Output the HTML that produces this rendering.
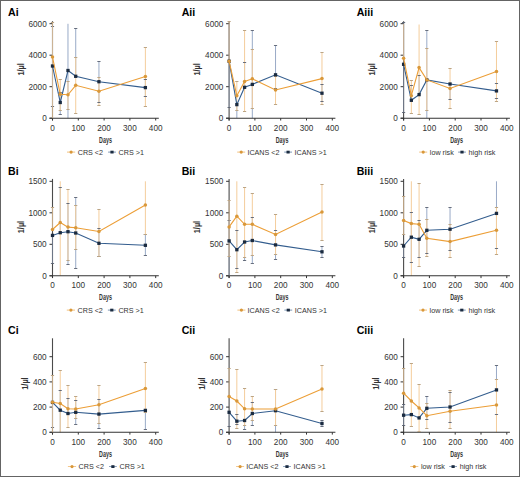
<!DOCTYPE html><html><head><meta charset="utf-8"><style>html,body{margin:0;padding:0;background:#fff;}svg{display:block;}text{font-family:"Liberation Sans",sans-serif;}</style></head><body>
<svg width="520" height="477" viewBox="0 0 520 477">
<rect x="0" y="0" width="520" height="477" fill="#fff"/>
<g><text x="8.1" y="15.7" font-size="10.6" font-weight="bold" fill="#000">Ai</text><line x1="60.24" y1="102.50" x2="60.24" y2="92.30" stroke="#8FA2C2" stroke-width="1.0" opacity="0.9"/><line x1="60.24" y1="102.50" x2="60.24" y2="114.40" stroke="#8FA2C2" stroke-width="1.0" opacity="0.9"/><line x1="67.98" y1="70.50" x2="67.98" y2="23.80" stroke="#8FA2C2" stroke-width="1.0" opacity="0.9"/><line x1="67.98" y1="70.50" x2="67.98" y2="118.20" stroke="#8FA2C2" stroke-width="1.0" opacity="0.9"/><line x1="75.72" y1="76.30" x2="75.72" y2="28.30" stroke="#8FA2C2" stroke-width="1.0" opacity="0.9"/><line x1="98.94" y1="81.70" x2="98.94" y2="61.30" stroke="#8FA2C2" stroke-width="1.0" opacity="0.9"/><line x1="98.94" y1="81.70" x2="98.94" y2="102.70" stroke="#8FA2C2" stroke-width="1.0" opacity="0.9"/><line x1="145.38" y1="87.60" x2="145.38" y2="79.10" stroke="#8FA2C2" stroke-width="1.0" opacity="0.9"/><line x1="145.38" y1="87.60" x2="145.38" y2="96.20" stroke="#8FA2C2" stroke-width="1.0" opacity="0.9"/><line x1="60.24" y1="94.30" x2="60.24" y2="79.30" stroke="#F4CD9C" stroke-width="1.0" opacity="1.0"/><line x1="60.24" y1="94.30" x2="60.24" y2="111.00" stroke="#F4CD9C" stroke-width="1.0" opacity="1.0"/><line x1="67.98" y1="94.80" x2="67.98" y2="81.60" stroke="#F4CD9C" stroke-width="1.0" opacity="1.0"/><line x1="67.98" y1="94.80" x2="67.98" y2="109.30" stroke="#F4CD9C" stroke-width="1.0" opacity="1.0"/><line x1="75.72" y1="85.30" x2="75.72" y2="57.80" stroke="#F4CD9C" stroke-width="1.0" opacity="1.0"/><line x1="75.72" y1="85.30" x2="75.72" y2="113.30" stroke="#F4CD9C" stroke-width="1.0" opacity="1.0"/><line x1="98.94" y1="91.20" x2="98.94" y2="77.80" stroke="#F4CD9C" stroke-width="1.0" opacity="1.0"/><line x1="98.94" y1="91.20" x2="98.94" y2="105.40" stroke="#F4CD9C" stroke-width="1.0" opacity="1.0"/><line x1="145.38" y1="76.50" x2="145.38" y2="47.10" stroke="#F4CD9C" stroke-width="1.0" opacity="1.0"/><line x1="145.38" y1="76.50" x2="145.38" y2="106.50" stroke="#F4CD9C" stroke-width="1.0" opacity="1.0"/><line x1="52.50" y1="21.20" x2="52.50" y2="120.40" stroke="#333333" stroke-width="1.1" opacity="0.88"/><line x1="49.50" y1="118.20" x2="158.80" y2="118.20" stroke="#333333" stroke-width="1.1"/><line x1="49.50" y1="118.20" x2="52.50" y2="118.20" stroke="#333333" stroke-width="1"/><text x="46.70" y="121.20" font-size="8.2" text-anchor="end" fill="#333333">0</text><line x1="49.50" y1="86.70" x2="52.50" y2="86.70" stroke="#333333" stroke-width="1"/><text x="46.70" y="89.70" font-size="8.2" text-anchor="end" fill="#333333">2000</text><line x1="49.50" y1="55.20" x2="52.50" y2="55.20" stroke="#333333" stroke-width="1"/><text x="46.70" y="58.20" font-size="8.2" text-anchor="end" fill="#333333">4000</text><line x1="49.50" y1="23.70" x2="52.50" y2="23.70" stroke="#333333" stroke-width="1"/><text x="46.70" y="26.70" font-size="8.2" text-anchor="end" fill="#333333">6000</text><line x1="52.50" y1="118.20" x2="52.50" y2="120.50" stroke="#333333" stroke-width="1"/><text x="52.50" y="130.50" font-size="8.2" text-anchor="middle" fill="#333333">0</text><line x1="78.30" y1="118.20" x2="78.30" y2="120.50" stroke="#333333" stroke-width="1"/><text x="78.30" y="130.50" font-size="8.2" text-anchor="middle" fill="#333333">100</text><line x1="104.10" y1="118.20" x2="104.10" y2="120.50" stroke="#333333" stroke-width="1"/><text x="104.10" y="130.50" font-size="8.2" text-anchor="middle" fill="#333333">200</text><line x1="129.90" y1="118.20" x2="129.90" y2="120.50" stroke="#333333" stroke-width="1"/><text x="129.90" y="130.50" font-size="8.2" text-anchor="middle" fill="#333333">300</text><line x1="155.70" y1="118.20" x2="155.70" y2="120.50" stroke="#333333" stroke-width="1"/><text x="155.70" y="130.50" font-size="8.2" text-anchor="middle" fill="#333333">400</text><line x1="52.50" y1="66.00" x2="52.50" y2="26.20" stroke="#8FA2C2" stroke-width="1.0" opacity="0.5"/><line x1="50.90" y1="26.50" x2="54.10" y2="26.50" stroke="#5A6272" stroke-width="1" opacity="0.9"/><line x1="52.50" y1="66.00" x2="52.50" y2="106.50" stroke="#8FA2C2" stroke-width="1.0" opacity="0.5"/><line x1="50.90" y1="106.50" x2="54.10" y2="106.50" stroke="#5A6272" stroke-width="1" opacity="0.9"/><line x1="58.64" y1="92.50" x2="61.84" y2="92.50" stroke="#5A6272" stroke-width="1" opacity="0.9"/><line x1="58.64" y1="114.50" x2="61.84" y2="114.50" stroke="#5A6272" stroke-width="1" opacity="0.9"/><line x1="74.12" y1="28.50" x2="77.32" y2="28.50" stroke="#5A6272" stroke-width="1" opacity="0.9"/><line x1="97.34" y1="61.50" x2="100.54" y2="61.50" stroke="#5A6272" stroke-width="1" opacity="0.9"/><line x1="97.34" y1="102.50" x2="100.54" y2="102.50" stroke="#5A6272" stroke-width="1" opacity="0.9"/><line x1="143.78" y1="79.50" x2="146.98" y2="79.50" stroke="#5A6272" stroke-width="1" opacity="0.9"/><line x1="143.78" y1="96.50" x2="146.98" y2="96.50" stroke="#5A6272" stroke-width="1" opacity="0.9"/><line x1="52.50" y1="57.00" x2="52.50" y2="22.70" stroke="#F4CD9C" stroke-width="1.0" opacity="0.7"/><line x1="50.90" y1="22.50" x2="54.10" y2="22.50" stroke="#BCA585" stroke-width="1" opacity="1.0"/><line x1="52.50" y1="57.00" x2="52.50" y2="118.20" stroke="#F4CD9C" stroke-width="1.0" opacity="0.7"/><line x1="58.64" y1="79.50" x2="61.84" y2="79.50" stroke="#BCA585" stroke-width="1" opacity="1.0"/><line x1="58.64" y1="110.50" x2="61.84" y2="110.50" stroke="#BCA585" stroke-width="1" opacity="1.0"/><line x1="66.38" y1="81.50" x2="69.58" y2="81.50" stroke="#BCA585" stroke-width="1" opacity="1.0"/><line x1="66.38" y1="109.50" x2="69.58" y2="109.50" stroke="#BCA585" stroke-width="1" opacity="1.0"/><line x1="74.12" y1="57.50" x2="77.32" y2="57.50" stroke="#BCA585" stroke-width="1" opacity="1.0"/><line x1="74.12" y1="113.50" x2="77.32" y2="113.50" stroke="#BCA585" stroke-width="1" opacity="1.0"/><line x1="97.34" y1="77.50" x2="100.54" y2="77.50" stroke="#BCA585" stroke-width="1" opacity="1.0"/><line x1="97.34" y1="105.50" x2="100.54" y2="105.50" stroke="#BCA585" stroke-width="1" opacity="1.0"/><line x1="143.78" y1="47.50" x2="146.98" y2="47.50" stroke="#BCA585" stroke-width="1" opacity="1.0"/><line x1="143.78" y1="106.50" x2="146.98" y2="106.50" stroke="#BCA585" stroke-width="1" opacity="1.0"/><polyline points="52.50,66.00 60.24,102.50 67.98,70.50 75.72,76.30 98.94,81.70 145.38,87.60" fill="none" stroke="#335D8E" stroke-width="1.1"/><rect x="50.85" y="64.35" width="3.3" height="3.3" fill="#1B2B40"/><rect x="58.59" y="100.85" width="3.3" height="3.3" fill="#1B2B40"/><rect x="66.33" y="68.85" width="3.3" height="3.3" fill="#1B2B40"/><rect x="74.07" y="74.65" width="3.3" height="3.3" fill="#1B2B40"/><rect x="97.29" y="80.05" width="3.3" height="3.3" fill="#1B2B40"/><rect x="143.73" y="85.95" width="3.3" height="3.3" fill="#1B2B40"/><polyline points="52.50,57.00 60.24,94.30 67.98,94.80 75.72,85.30 98.94,91.20 145.38,76.50" fill="none" stroke="#EC9E36" stroke-width="1.1"/><circle cx="52.50" cy="57.00" r="1.75" fill="#D9983A"/><circle cx="60.24" cy="94.30" r="1.75" fill="#D9983A"/><circle cx="67.98" cy="94.80" r="1.75" fill="#D9983A"/><circle cx="75.72" cy="85.30" r="1.75" fill="#D9983A"/><circle cx="98.94" cy="91.20" r="1.75" fill="#D9983A"/><circle cx="145.38" cy="76.50" r="1.75" fill="#D9983A"/><text x="99.10" y="142.70" font-size="8.3" font-weight="bold" fill="#333333" textLength="12.8" lengthAdjust="spacingAndGlyphs">Days</text><text transform="translate(23.80,69.45) rotate(-90)" x="0" y="0" font-size="8.3" font-weight="bold" fill="#333333" text-anchor="middle" textLength="12.3" lengthAdjust="spacingAndGlyphs">1/µl</text><line x1="67.00" y1="152.10" x2="75.20" y2="152.10" stroke="#EC9E36" stroke-width="0.8" opacity="0.8"/><circle cx="71.10" cy="152.10" r="1.6" fill="#D9983A"/><text x="77.70" y="154.50" font-size="7.2" fill="#333333">CRS <2</text><line x1="108.10" y1="152.10" x2="115.90" y2="152.10" stroke="#335D8E" stroke-width="0.8" opacity="0.8"/><rect x="110.40" y="150.70" width="3.2" height="2.8" fill="#1B2B40"/><text x="118.60" y="154.50" font-size="7.2" fill="#333333">CRS >1</text></g>
<g><text x="181.7" y="15.7" font-size="10.6" font-weight="bold" fill="#000">Aii</text><line x1="236.84" y1="104.60" x2="236.84" y2="118.20" stroke="#8FA2C2" stroke-width="1.0" opacity="0.9"/><line x1="244.58" y1="87.30" x2="244.58" y2="62.70" stroke="#8FA2C2" stroke-width="1.0" opacity="0.9"/><line x1="252.32" y1="84.40" x2="252.32" y2="30.50" stroke="#8FA2C2" stroke-width="1.0" opacity="0.9"/><line x1="252.32" y1="84.40" x2="252.32" y2="118.20" stroke="#8FA2C2" stroke-width="1.0" opacity="0.9"/><line x1="275.54" y1="74.80" x2="275.54" y2="45.40" stroke="#8FA2C2" stroke-width="1.0" opacity="0.9"/><line x1="275.54" y1="74.80" x2="275.54" y2="88.00" stroke="#8FA2C2" stroke-width="1.0" opacity="0.9"/><line x1="321.98" y1="93.20" x2="321.98" y2="84.50" stroke="#8FA2C2" stroke-width="1.0" opacity="0.9"/><line x1="321.98" y1="93.20" x2="321.98" y2="101.80" stroke="#8FA2C2" stroke-width="1.0" opacity="0.9"/><line x1="236.84" y1="95.70" x2="236.84" y2="81.60" stroke="#F4CD9C" stroke-width="1.0" opacity="1.0"/><line x1="236.84" y1="95.70" x2="236.84" y2="111.00" stroke="#F4CD9C" stroke-width="1.0" opacity="1.0"/><line x1="244.58" y1="81.40" x2="244.58" y2="30.50" stroke="#F4CD9C" stroke-width="1.0" opacity="1.0"/><line x1="244.58" y1="81.40" x2="244.58" y2="111.30" stroke="#F4CD9C" stroke-width="1.0" opacity="1.0"/><line x1="252.32" y1="78.80" x2="252.32" y2="49.10" stroke="#F4CD9C" stroke-width="1.0" opacity="1.0"/><line x1="252.32" y1="78.80" x2="252.32" y2="108.80" stroke="#F4CD9C" stroke-width="1.0" opacity="1.0"/><line x1="275.54" y1="90.00" x2="275.54" y2="76.00" stroke="#F4CD9C" stroke-width="1.0" opacity="1.0"/><line x1="275.54" y1="90.00" x2="275.54" y2="104.10" stroke="#F4CD9C" stroke-width="1.0" opacity="1.0"/><line x1="321.98" y1="78.60" x2="321.98" y2="52.10" stroke="#F4CD9C" stroke-width="1.0" opacity="1.0"/><line x1="321.98" y1="78.60" x2="321.98" y2="104.60" stroke="#F4CD9C" stroke-width="1.0" opacity="1.0"/><line x1="229.10" y1="21.20" x2="229.10" y2="120.40" stroke="#333333" stroke-width="1.1" opacity="0.88"/><line x1="226.10" y1="118.20" x2="335.40" y2="118.20" stroke="#333333" stroke-width="1.1"/><line x1="226.10" y1="118.20" x2="229.10" y2="118.20" stroke="#333333" stroke-width="1"/><text x="223.30" y="121.20" font-size="8.2" text-anchor="end" fill="#333333">0</text><line x1="226.10" y1="86.70" x2="229.10" y2="86.70" stroke="#333333" stroke-width="1"/><text x="223.30" y="89.70" font-size="8.2" text-anchor="end" fill="#333333">2000</text><line x1="226.10" y1="55.20" x2="229.10" y2="55.20" stroke="#333333" stroke-width="1"/><text x="223.30" y="58.20" font-size="8.2" text-anchor="end" fill="#333333">4000</text><line x1="226.10" y1="23.70" x2="229.10" y2="23.70" stroke="#333333" stroke-width="1"/><text x="223.30" y="26.70" font-size="8.2" text-anchor="end" fill="#333333">6000</text><line x1="229.10" y1="118.20" x2="229.10" y2="120.50" stroke="#333333" stroke-width="1"/><text x="229.10" y="130.50" font-size="8.2" text-anchor="middle" fill="#333333">0</text><line x1="254.90" y1="118.20" x2="254.90" y2="120.50" stroke="#333333" stroke-width="1"/><text x="254.90" y="130.50" font-size="8.2" text-anchor="middle" fill="#333333">100</text><line x1="280.70" y1="118.20" x2="280.70" y2="120.50" stroke="#333333" stroke-width="1"/><text x="280.70" y="130.50" font-size="8.2" text-anchor="middle" fill="#333333">200</text><line x1="306.50" y1="118.20" x2="306.50" y2="120.50" stroke="#333333" stroke-width="1"/><text x="306.50" y="130.50" font-size="8.2" text-anchor="middle" fill="#333333">300</text><line x1="332.30" y1="118.20" x2="332.30" y2="120.50" stroke="#333333" stroke-width="1"/><text x="332.30" y="130.50" font-size="8.2" text-anchor="middle" fill="#333333">400</text><line x1="229.10" y1="61.20" x2="229.10" y2="24.00" stroke="#8FA2C2" stroke-width="1.0" opacity="0.5"/><line x1="229.10" y1="61.20" x2="229.10" y2="107.10" stroke="#8FA2C2" stroke-width="1.0" opacity="0.5"/><line x1="227.50" y1="107.50" x2="230.70" y2="107.50" stroke="#5A6272" stroke-width="1" opacity="0.9"/><line x1="242.98" y1="62.50" x2="246.18" y2="62.50" stroke="#5A6272" stroke-width="1" opacity="0.9"/><line x1="250.72" y1="30.50" x2="253.92" y2="30.50" stroke="#5A6272" stroke-width="1" opacity="0.9"/><line x1="273.94" y1="45.50" x2="277.14" y2="45.50" stroke="#5A6272" stroke-width="1" opacity="0.9"/><line x1="273.94" y1="88.50" x2="277.14" y2="88.50" stroke="#5A6272" stroke-width="1" opacity="0.9"/><line x1="320.38" y1="84.50" x2="323.58" y2="84.50" stroke="#5A6272" stroke-width="1" opacity="0.9"/><line x1="320.38" y1="101.50" x2="323.58" y2="101.50" stroke="#5A6272" stroke-width="1" opacity="0.9"/><line x1="229.10" y1="61.20" x2="229.10" y2="21.80" stroke="#F4CD9C" stroke-width="1.0" opacity="0.7"/><line x1="227.50" y1="21.50" x2="230.70" y2="21.50" stroke="#BCA585" stroke-width="1" opacity="1.0"/><line x1="235.24" y1="81.50" x2="238.44" y2="81.50" stroke="#BCA585" stroke-width="1" opacity="1.0"/><line x1="235.24" y1="110.50" x2="238.44" y2="110.50" stroke="#BCA585" stroke-width="1" opacity="1.0"/><line x1="242.98" y1="30.50" x2="246.18" y2="30.50" stroke="#BCA585" stroke-width="1" opacity="1.0"/><line x1="242.98" y1="111.50" x2="246.18" y2="111.50" stroke="#BCA585" stroke-width="1" opacity="1.0"/><line x1="250.72" y1="49.50" x2="253.92" y2="49.50" stroke="#BCA585" stroke-width="1" opacity="1.0"/><line x1="250.72" y1="108.50" x2="253.92" y2="108.50" stroke="#BCA585" stroke-width="1" opacity="1.0"/><line x1="273.94" y1="76.50" x2="277.14" y2="76.50" stroke="#BCA585" stroke-width="1" opacity="1.0"/><line x1="273.94" y1="104.50" x2="277.14" y2="104.50" stroke="#BCA585" stroke-width="1" opacity="1.0"/><line x1="320.38" y1="52.50" x2="323.58" y2="52.50" stroke="#BCA585" stroke-width="1" opacity="1.0"/><line x1="320.38" y1="104.50" x2="323.58" y2="104.50" stroke="#BCA585" stroke-width="1" opacity="1.0"/><polyline points="229.10,61.20 236.84,104.60 244.58,87.30 252.32,84.40 275.54,74.80 321.98,93.20" fill="none" stroke="#335D8E" stroke-width="1.1"/><rect x="227.45" y="59.55" width="3.3" height="3.3" fill="#1B2B40"/><rect x="235.19" y="102.95" width="3.3" height="3.3" fill="#1B2B40"/><rect x="242.93" y="85.65" width="3.3" height="3.3" fill="#1B2B40"/><rect x="250.67" y="82.75" width="3.3" height="3.3" fill="#1B2B40"/><rect x="273.89" y="73.15" width="3.3" height="3.3" fill="#1B2B40"/><rect x="320.33" y="91.55" width="3.3" height="3.3" fill="#1B2B40"/><polyline points="229.10,61.20 236.84,95.70 244.58,81.40 252.32,78.80 275.54,90.00 321.98,78.60" fill="none" stroke="#EC9E36" stroke-width="1.1"/><circle cx="229.10" cy="61.20" r="1.75" fill="#D9983A"/><circle cx="236.84" cy="95.70" r="1.75" fill="#D9983A"/><circle cx="244.58" cy="81.40" r="1.75" fill="#D9983A"/><circle cx="252.32" cy="78.80" r="1.75" fill="#D9983A"/><circle cx="275.54" cy="90.00" r="1.75" fill="#D9983A"/><circle cx="321.98" cy="78.60" r="1.75" fill="#D9983A"/><text x="275.70" y="142.70" font-size="8.3" font-weight="bold" fill="#333333" textLength="12.8" lengthAdjust="spacingAndGlyphs">Days</text><text transform="translate(200.40,69.45) rotate(-90)" x="0" y="0" font-size="8.3" font-weight="bold" fill="#333333" text-anchor="middle" textLength="12.3" lengthAdjust="spacingAndGlyphs">1/µl</text><line x1="237.20" y1="152.10" x2="245.20" y2="152.10" stroke="#EC9E36" stroke-width="0.8" opacity="0.8"/><circle cx="241.20" cy="152.10" r="1.6" fill="#D9983A"/><text x="247.40" y="154.50" font-size="7.2" fill="#333333">ICANS <2</text><line x1="284.20" y1="152.10" x2="292.00" y2="152.10" stroke="#335D8E" stroke-width="0.8" opacity="0.8"/><rect x="286.50" y="150.70" width="3.2" height="2.8" fill="#1B2B40"/><text x="294.60" y="154.50" font-size="7.2" fill="#333333">ICANS >1</text></g>
<g><text x="356.7" y="15.7" font-size="10.6" font-weight="bold" fill="#000">Aiii</text><line x1="411.34" y1="100.30" x2="411.34" y2="85.60" stroke="#8FA2C2" stroke-width="1.0" opacity="0.9"/><line x1="419.08" y1="94.60" x2="419.08" y2="75.40" stroke="#8FA2C2" stroke-width="1.0" opacity="0.9"/><line x1="426.82" y1="79.90" x2="426.82" y2="30.90" stroke="#8FA2C2" stroke-width="1.0" opacity="0.9"/><line x1="426.82" y1="79.90" x2="426.82" y2="118.20" stroke="#8FA2C2" stroke-width="1.0" opacity="0.9"/><line x1="450.04" y1="84.00" x2="450.04" y2="99.30" stroke="#8FA2C2" stroke-width="1.0" opacity="0.9"/><line x1="496.48" y1="90.90" x2="496.48" y2="83.30" stroke="#8FA2C2" stroke-width="1.0" opacity="0.9"/><line x1="496.48" y1="90.90" x2="496.48" y2="98.40" stroke="#8FA2C2" stroke-width="1.0" opacity="0.9"/><line x1="411.34" y1="95.70" x2="411.34" y2="80.20" stroke="#F4CD9C" stroke-width="1.0" opacity="1.0"/><line x1="411.34" y1="95.70" x2="411.34" y2="113.90" stroke="#F4CD9C" stroke-width="1.0" opacity="1.0"/><line x1="419.08" y1="67.60" x2="419.08" y2="24.50" stroke="#F4CD9C" stroke-width="1.0" opacity="1.0"/><line x1="419.08" y1="67.60" x2="419.08" y2="114.40" stroke="#F4CD9C" stroke-width="1.0" opacity="1.0"/><line x1="426.82" y1="79.90" x2="426.82" y2="48.00" stroke="#F4CD9C" stroke-width="1.0" opacity="1.0"/><line x1="426.82" y1="79.90" x2="426.82" y2="111.00" stroke="#F4CD9C" stroke-width="1.0" opacity="1.0"/><line x1="450.04" y1="88.40" x2="450.04" y2="68.60" stroke="#F4CD9C" stroke-width="1.0" opacity="1.0"/><line x1="450.04" y1="88.40" x2="450.04" y2="108.00" stroke="#F4CD9C" stroke-width="1.0" opacity="1.0"/><line x1="496.48" y1="71.60" x2="496.48" y2="41.70" stroke="#F4CD9C" stroke-width="1.0" opacity="1.0"/><line x1="496.48" y1="71.60" x2="496.48" y2="101.30" stroke="#F4CD9C" stroke-width="1.0" opacity="1.0"/><line x1="403.60" y1="21.20" x2="403.60" y2="120.40" stroke="#333333" stroke-width="1.1" opacity="0.88"/><line x1="400.60" y1="118.20" x2="509.90" y2="118.20" stroke="#333333" stroke-width="1.1"/><line x1="400.60" y1="118.20" x2="403.60" y2="118.20" stroke="#333333" stroke-width="1"/><text x="397.80" y="121.20" font-size="8.2" text-anchor="end" fill="#333333">0</text><line x1="400.60" y1="86.70" x2="403.60" y2="86.70" stroke="#333333" stroke-width="1"/><text x="397.80" y="89.70" font-size="8.2" text-anchor="end" fill="#333333">2000</text><line x1="400.60" y1="55.20" x2="403.60" y2="55.20" stroke="#333333" stroke-width="1"/><text x="397.80" y="58.20" font-size="8.2" text-anchor="end" fill="#333333">4000</text><line x1="400.60" y1="23.70" x2="403.60" y2="23.70" stroke="#333333" stroke-width="1"/><text x="397.80" y="26.70" font-size="8.2" text-anchor="end" fill="#333333">6000</text><line x1="403.60" y1="118.20" x2="403.60" y2="120.50" stroke="#333333" stroke-width="1"/><text x="403.60" y="130.50" font-size="8.2" text-anchor="middle" fill="#333333">0</text><line x1="429.40" y1="118.20" x2="429.40" y2="120.50" stroke="#333333" stroke-width="1"/><text x="429.40" y="130.50" font-size="8.2" text-anchor="middle" fill="#333333">100</text><line x1="455.20" y1="118.20" x2="455.20" y2="120.50" stroke="#333333" stroke-width="1"/><text x="455.20" y="130.50" font-size="8.2" text-anchor="middle" fill="#333333">200</text><line x1="481.00" y1="118.20" x2="481.00" y2="120.50" stroke="#333333" stroke-width="1"/><text x="481.00" y="130.50" font-size="8.2" text-anchor="middle" fill="#333333">300</text><line x1="506.80" y1="118.20" x2="506.80" y2="120.50" stroke="#333333" stroke-width="1"/><text x="506.80" y="130.50" font-size="8.2" text-anchor="middle" fill="#333333">400</text><line x1="403.60" y1="64.30" x2="403.60" y2="22.00" stroke="#8FA2C2" stroke-width="1.0" opacity="0.5"/><line x1="402.00" y1="22.50" x2="405.20" y2="22.50" stroke="#5A6272" stroke-width="1" opacity="0.9"/><line x1="403.60" y1="64.30" x2="403.60" y2="112.40" stroke="#8FA2C2" stroke-width="1.0" opacity="0.5"/><line x1="402.00" y1="112.50" x2="405.20" y2="112.50" stroke="#5A6272" stroke-width="1" opacity="0.9"/><line x1="409.74" y1="85.50" x2="412.94" y2="85.50" stroke="#5A6272" stroke-width="1" opacity="0.9"/><line x1="417.48" y1="75.50" x2="420.68" y2="75.50" stroke="#5A6272" stroke-width="1" opacity="0.9"/><line x1="425.22" y1="30.50" x2="428.42" y2="30.50" stroke="#5A6272" stroke-width="1" opacity="0.9"/><line x1="448.44" y1="99.50" x2="451.64" y2="99.50" stroke="#5A6272" stroke-width="1" opacity="0.9"/><line x1="494.88" y1="83.50" x2="498.08" y2="83.50" stroke="#5A6272" stroke-width="1" opacity="0.9"/><line x1="494.88" y1="98.50" x2="498.08" y2="98.50" stroke="#5A6272" stroke-width="1" opacity="0.9"/><line x1="403.60" y1="58.30" x2="403.60" y2="24.00" stroke="#F4CD9C" stroke-width="1.0" opacity="0.7"/><line x1="409.74" y1="80.50" x2="412.94" y2="80.50" stroke="#BCA585" stroke-width="1" opacity="1.0"/><line x1="409.74" y1="113.50" x2="412.94" y2="113.50" stroke="#BCA585" stroke-width="1" opacity="1.0"/><line x1="417.48" y1="114.50" x2="420.68" y2="114.50" stroke="#BCA585" stroke-width="1" opacity="1.0"/><line x1="425.22" y1="48.50" x2="428.42" y2="48.50" stroke="#BCA585" stroke-width="1" opacity="1.0"/><line x1="425.22" y1="110.50" x2="428.42" y2="110.50" stroke="#BCA585" stroke-width="1" opacity="1.0"/><line x1="448.44" y1="68.50" x2="451.64" y2="68.50" stroke="#BCA585" stroke-width="1" opacity="1.0"/><line x1="448.44" y1="108.50" x2="451.64" y2="108.50" stroke="#BCA585" stroke-width="1" opacity="1.0"/><line x1="494.88" y1="41.50" x2="498.08" y2="41.50" stroke="#BCA585" stroke-width="1" opacity="1.0"/><line x1="494.88" y1="101.50" x2="498.08" y2="101.50" stroke="#BCA585" stroke-width="1" opacity="1.0"/><polyline points="403.60,64.30 411.34,100.30 419.08,94.60 426.82,79.90 450.04,84.00 496.48,90.90" fill="none" stroke="#335D8E" stroke-width="1.1"/><rect x="401.95" y="62.65" width="3.3" height="3.3" fill="#1B2B40"/><rect x="409.69" y="98.65" width="3.3" height="3.3" fill="#1B2B40"/><rect x="417.43" y="92.95" width="3.3" height="3.3" fill="#1B2B40"/><rect x="425.17" y="78.25" width="3.3" height="3.3" fill="#1B2B40"/><rect x="448.39" y="82.35" width="3.3" height="3.3" fill="#1B2B40"/><rect x="494.83" y="89.25" width="3.3" height="3.3" fill="#1B2B40"/><polyline points="403.60,58.30 411.34,95.70 419.08,67.60 426.82,79.90 450.04,88.40 496.48,71.60" fill="none" stroke="#EC9E36" stroke-width="1.1"/><circle cx="403.60" cy="58.30" r="1.75" fill="#D9983A"/><circle cx="411.34" cy="95.70" r="1.75" fill="#D9983A"/><circle cx="419.08" cy="67.60" r="1.75" fill="#D9983A"/><circle cx="426.82" cy="79.90" r="1.75" fill="#D9983A"/><circle cx="450.04" cy="88.40" r="1.75" fill="#D9983A"/><circle cx="496.48" cy="71.60" r="1.75" fill="#D9983A"/><text x="450.20" y="142.70" font-size="8.3" font-weight="bold" fill="#333333" textLength="12.8" lengthAdjust="spacingAndGlyphs">Days</text><text transform="translate(374.90,69.45) rotate(-90)" x="0" y="0" font-size="8.3" font-weight="bold" fill="#333333" text-anchor="middle" textLength="12.3" lengthAdjust="spacingAndGlyphs">1/µl</text><line x1="419.20" y1="152.10" x2="427.20" y2="152.10" stroke="#EC9E36" stroke-width="0.8" opacity="0.8"/><circle cx="423.20" cy="152.10" r="1.6" fill="#D9983A"/><text x="429.80" y="154.50" font-size="7.2" fill="#333333">low risk</text><line x1="458.10" y1="152.10" x2="465.90" y2="152.10" stroke="#335D8E" stroke-width="0.8" opacity="0.8"/><rect x="460.40" y="150.70" width="3.2" height="2.8" fill="#1B2B40"/><text x="468.60" y="154.50" font-size="7.2" fill="#333333">high risk</text></g>
<g><text x="8.1" y="174.7" font-size="10.6" font-weight="bold" fill="#000">Bi</text><line x1="60.24" y1="232.70" x2="60.24" y2="187.80" stroke="#8FA2C2" stroke-width="1.0" opacity="0.9"/><line x1="67.98" y1="231.70" x2="67.98" y2="203.30" stroke="#8FA2C2" stroke-width="1.0" opacity="0.9"/><line x1="67.98" y1="231.70" x2="67.98" y2="264.30" stroke="#8FA2C2" stroke-width="1.0" opacity="0.9"/><line x1="75.72" y1="233.00" x2="75.72" y2="197.30" stroke="#8FA2C2" stroke-width="1.0" opacity="0.9"/><line x1="75.72" y1="233.00" x2="75.72" y2="268.20" stroke="#8FA2C2" stroke-width="1.0" opacity="0.9"/><line x1="98.94" y1="243.30" x2="98.94" y2="228.80" stroke="#8FA2C2" stroke-width="1.0" opacity="0.9"/><line x1="98.94" y1="243.30" x2="98.94" y2="256.70" stroke="#8FA2C2" stroke-width="1.0" opacity="0.9"/><line x1="145.38" y1="245.30" x2="145.38" y2="234.50" stroke="#8FA2C2" stroke-width="1.0" opacity="0.9"/><line x1="145.38" y1="245.30" x2="145.38" y2="255.70" stroke="#8FA2C2" stroke-width="1.0" opacity="0.9"/><line x1="60.24" y1="222.50" x2="60.24" y2="181.30" stroke="#F4CD9C" stroke-width="1.0" opacity="1.0"/><line x1="60.24" y1="222.50" x2="60.24" y2="275.80" stroke="#F4CD9C" stroke-width="1.0" opacity="1.0"/><line x1="67.98" y1="227.10" x2="67.98" y2="189.60" stroke="#F4CD9C" stroke-width="1.0" opacity="1.0"/><line x1="67.98" y1="227.10" x2="67.98" y2="260.50" stroke="#F4CD9C" stroke-width="1.0" opacity="1.0"/><line x1="75.72" y1="227.80" x2="75.72" y2="205.40" stroke="#F4CD9C" stroke-width="1.0" opacity="1.0"/><line x1="75.72" y1="227.80" x2="75.72" y2="249.70" stroke="#F4CD9C" stroke-width="1.0" opacity="1.0"/><line x1="98.94" y1="231.50" x2="98.94" y2="209.90" stroke="#F4CD9C" stroke-width="1.0" opacity="1.0"/><line x1="98.94" y1="231.50" x2="98.94" y2="256.70" stroke="#F4CD9C" stroke-width="1.0" opacity="1.0"/><line x1="145.38" y1="205.10" x2="145.38" y2="181.30" stroke="#F4CD9C" stroke-width="1.0" opacity="1.0"/><line x1="145.38" y1="205.10" x2="145.38" y2="234.50" stroke="#F4CD9C" stroke-width="1.0" opacity="1.0"/><line x1="52.50" y1="178.90" x2="52.50" y2="278.00" stroke="#333333" stroke-width="1.1" opacity="0.88"/><line x1="49.50" y1="275.80" x2="158.80" y2="275.80" stroke="#333333" stroke-width="1.1"/><line x1="49.50" y1="275.80" x2="52.50" y2="275.80" stroke="#333333" stroke-width="1"/><text x="46.70" y="278.80" font-size="8.2" text-anchor="end" fill="#333333">0</text><line x1="49.50" y1="244.30" x2="52.50" y2="244.30" stroke="#333333" stroke-width="1"/><text x="46.70" y="247.30" font-size="8.2" text-anchor="end" fill="#333333">500</text><line x1="49.50" y1="212.80" x2="52.50" y2="212.80" stroke="#333333" stroke-width="1"/><text x="46.70" y="215.80" font-size="8.2" text-anchor="end" fill="#333333">1000</text><line x1="49.50" y1="181.30" x2="52.50" y2="181.30" stroke="#333333" stroke-width="1"/><text x="46.70" y="184.30" font-size="8.2" text-anchor="end" fill="#333333">1500</text><line x1="52.50" y1="275.80" x2="52.50" y2="278.10" stroke="#333333" stroke-width="1"/><text x="52.50" y="288.10" font-size="8.2" text-anchor="middle" fill="#333333">0</text><line x1="78.30" y1="275.80" x2="78.30" y2="278.10" stroke="#333333" stroke-width="1"/><text x="78.30" y="288.10" font-size="8.2" text-anchor="middle" fill="#333333">100</text><line x1="104.10" y1="275.80" x2="104.10" y2="278.10" stroke="#333333" stroke-width="1"/><text x="104.10" y="288.10" font-size="8.2" text-anchor="middle" fill="#333333">200</text><line x1="129.90" y1="275.80" x2="129.90" y2="278.10" stroke="#333333" stroke-width="1"/><text x="129.90" y="288.10" font-size="8.2" text-anchor="middle" fill="#333333">300</text><line x1="155.70" y1="275.80" x2="155.70" y2="278.10" stroke="#333333" stroke-width="1"/><text x="155.70" y="288.10" font-size="8.2" text-anchor="middle" fill="#333333">400</text><line x1="52.50" y1="235.40" x2="52.50" y2="263.40" stroke="#8FA2C2" stroke-width="1.0" opacity="0.5"/><line x1="50.90" y1="263.50" x2="54.10" y2="263.50" stroke="#5A6272" stroke-width="1" opacity="0.9"/><line x1="58.64" y1="187.50" x2="61.84" y2="187.50" stroke="#5A6272" stroke-width="1" opacity="0.9"/><line x1="66.38" y1="203.50" x2="69.58" y2="203.50" stroke="#5A6272" stroke-width="1" opacity="0.9"/><line x1="66.38" y1="264.50" x2="69.58" y2="264.50" stroke="#5A6272" stroke-width="1" opacity="0.9"/><line x1="74.12" y1="197.50" x2="77.32" y2="197.50" stroke="#5A6272" stroke-width="1" opacity="0.9"/><line x1="74.12" y1="268.50" x2="77.32" y2="268.50" stroke="#5A6272" stroke-width="1" opacity="0.9"/><line x1="97.34" y1="228.50" x2="100.54" y2="228.50" stroke="#5A6272" stroke-width="1" opacity="0.9"/><line x1="97.34" y1="256.50" x2="100.54" y2="256.50" stroke="#5A6272" stroke-width="1" opacity="0.9"/><line x1="143.78" y1="234.50" x2="146.98" y2="234.50" stroke="#5A6272" stroke-width="1" opacity="0.9"/><line x1="143.78" y1="255.50" x2="146.98" y2="255.50" stroke="#5A6272" stroke-width="1" opacity="0.9"/><line x1="52.50" y1="229.50" x2="52.50" y2="207.10" stroke="#F4CD9C" stroke-width="1.0" opacity="0.7"/><line x1="50.90" y1="207.50" x2="54.10" y2="207.50" stroke="#BCA585" stroke-width="1" opacity="1.0"/><line x1="66.38" y1="189.50" x2="69.58" y2="189.50" stroke="#BCA585" stroke-width="1" opacity="1.0"/><line x1="66.38" y1="260.50" x2="69.58" y2="260.50" stroke="#BCA585" stroke-width="1" opacity="1.0"/><line x1="74.12" y1="205.50" x2="77.32" y2="205.50" stroke="#BCA585" stroke-width="1" opacity="1.0"/><line x1="74.12" y1="249.50" x2="77.32" y2="249.50" stroke="#BCA585" stroke-width="1" opacity="1.0"/><line x1="97.34" y1="209.50" x2="100.54" y2="209.50" stroke="#BCA585" stroke-width="1" opacity="1.0"/><line x1="97.34" y1="256.50" x2="100.54" y2="256.50" stroke="#BCA585" stroke-width="1" opacity="1.0"/><line x1="143.78" y1="234.50" x2="146.98" y2="234.50" stroke="#BCA585" stroke-width="1" opacity="1.0"/><polyline points="52.50,235.40 60.24,232.70 67.98,231.70 75.72,233.00 98.94,243.30 145.38,245.30" fill="none" stroke="#335D8E" stroke-width="1.1"/><rect x="50.85" y="233.75" width="3.3" height="3.3" fill="#1B2B40"/><rect x="58.59" y="231.05" width="3.3" height="3.3" fill="#1B2B40"/><rect x="66.33" y="230.05" width="3.3" height="3.3" fill="#1B2B40"/><rect x="74.07" y="231.35" width="3.3" height="3.3" fill="#1B2B40"/><rect x="97.29" y="241.65" width="3.3" height="3.3" fill="#1B2B40"/><rect x="143.73" y="243.65" width="3.3" height="3.3" fill="#1B2B40"/><polyline points="52.50,229.50 60.24,222.50 67.98,227.10 75.72,227.80 98.94,231.50 145.38,205.10" fill="none" stroke="#EC9E36" stroke-width="1.1"/><circle cx="52.50" cy="229.50" r="1.75" fill="#D9983A"/><circle cx="60.24" cy="222.50" r="1.75" fill="#D9983A"/><circle cx="67.98" cy="227.10" r="1.75" fill="#D9983A"/><circle cx="75.72" cy="227.80" r="1.75" fill="#D9983A"/><circle cx="98.94" cy="231.50" r="1.75" fill="#D9983A"/><circle cx="145.38" cy="205.10" r="1.75" fill="#D9983A"/><text x="99.10" y="300.30" font-size="8.3" font-weight="bold" fill="#333333" textLength="12.8" lengthAdjust="spacingAndGlyphs">Days</text><text transform="translate(23.80,227.05) rotate(-90)" x="0" y="0" font-size="8.3" font-weight="bold" fill="#333333" text-anchor="middle" textLength="12.3" lengthAdjust="spacingAndGlyphs">1/µl</text><line x1="66.80" y1="310.10" x2="75.00" y2="310.10" stroke="#EC9E36" stroke-width="0.8" opacity="0.8"/><circle cx="70.90" cy="310.10" r="1.6" fill="#D9983A"/><text x="77.50" y="312.50" font-size="7.2" fill="#333333">CRS <2</text><line x1="107.90" y1="310.10" x2="115.70" y2="310.10" stroke="#335D8E" stroke-width="0.8" opacity="0.8"/><rect x="110.20" y="308.70" width="3.2" height="2.8" fill="#1B2B40"/><text x="118.40" y="312.50" font-size="7.2" fill="#333333">CRS >1</text></g>
<g><text x="181.7" y="174.7" font-size="10.6" font-weight="bold" fill="#000">Bii</text><line x1="236.84" y1="249.70" x2="236.84" y2="230.80" stroke="#8FA2C2" stroke-width="1.0" opacity="0.9"/><line x1="236.84" y1="249.70" x2="236.84" y2="268.20" stroke="#8FA2C2" stroke-width="1.0" opacity="0.9"/><line x1="244.58" y1="242.00" x2="244.58" y2="261.00" stroke="#8FA2C2" stroke-width="1.0" opacity="0.9"/><line x1="252.32" y1="240.50" x2="252.32" y2="217.40" stroke="#8FA2C2" stroke-width="1.0" opacity="0.9"/><line x1="252.32" y1="240.50" x2="252.32" y2="263.10" stroke="#8FA2C2" stroke-width="1.0" opacity="0.9"/><line x1="275.54" y1="244.90" x2="275.54" y2="230.10" stroke="#8FA2C2" stroke-width="1.0" opacity="0.9"/><line x1="275.54" y1="244.90" x2="275.54" y2="259.10" stroke="#8FA2C2" stroke-width="1.0" opacity="0.9"/><line x1="321.98" y1="251.80" x2="321.98" y2="246.30" stroke="#8FA2C2" stroke-width="1.0" opacity="0.9"/><line x1="321.98" y1="251.80" x2="321.98" y2="257.70" stroke="#8FA2C2" stroke-width="1.0" opacity="0.9"/><line x1="236.84" y1="216.20" x2="236.84" y2="181.30" stroke="#F4CD9C" stroke-width="1.0" opacity="1.0"/><line x1="236.84" y1="216.20" x2="236.84" y2="272.10" stroke="#F4CD9C" stroke-width="1.0" opacity="1.0"/><line x1="244.58" y1="224.30" x2="244.58" y2="187.80" stroke="#F4CD9C" stroke-width="1.0" opacity="1.0"/><line x1="244.58" y1="224.30" x2="244.58" y2="257.50" stroke="#F4CD9C" stroke-width="1.0" opacity="1.0"/><line x1="252.32" y1="224.30" x2="252.32" y2="193.40" stroke="#F4CD9C" stroke-width="1.0" opacity="1.0"/><line x1="252.32" y1="224.30" x2="252.32" y2="255.10" stroke="#F4CD9C" stroke-width="1.0" opacity="1.0"/><line x1="275.54" y1="234.50" x2="275.54" y2="215.00" stroke="#F4CD9C" stroke-width="1.0" opacity="1.0"/><line x1="275.54" y1="234.50" x2="275.54" y2="254.70" stroke="#F4CD9C" stroke-width="1.0" opacity="1.0"/><line x1="321.98" y1="212.00" x2="321.98" y2="184.30" stroke="#F4CD9C" stroke-width="1.0" opacity="1.0"/><line x1="321.98" y1="212.00" x2="321.98" y2="240.00" stroke="#F4CD9C" stroke-width="1.0" opacity="1.0"/><line x1="229.10" y1="178.90" x2="229.10" y2="278.00" stroke="#333333" stroke-width="1.1" opacity="0.88"/><line x1="226.10" y1="275.80" x2="335.40" y2="275.80" stroke="#333333" stroke-width="1.1"/><line x1="226.10" y1="275.80" x2="229.10" y2="275.80" stroke="#333333" stroke-width="1"/><text x="223.30" y="278.80" font-size="8.2" text-anchor="end" fill="#333333">0</text><line x1="226.10" y1="244.30" x2="229.10" y2="244.30" stroke="#333333" stroke-width="1"/><text x="223.30" y="247.30" font-size="8.2" text-anchor="end" fill="#333333">500</text><line x1="226.10" y1="212.80" x2="229.10" y2="212.80" stroke="#333333" stroke-width="1"/><text x="223.30" y="215.80" font-size="8.2" text-anchor="end" fill="#333333">1000</text><line x1="226.10" y1="181.30" x2="229.10" y2="181.30" stroke="#333333" stroke-width="1"/><text x="223.30" y="184.30" font-size="8.2" text-anchor="end" fill="#333333">1500</text><line x1="229.10" y1="275.80" x2="229.10" y2="278.10" stroke="#333333" stroke-width="1"/><text x="229.10" y="288.10" font-size="8.2" text-anchor="middle" fill="#333333">0</text><line x1="254.90" y1="275.80" x2="254.90" y2="278.10" stroke="#333333" stroke-width="1"/><text x="254.90" y="288.10" font-size="8.2" text-anchor="middle" fill="#333333">100</text><line x1="280.70" y1="275.80" x2="280.70" y2="278.10" stroke="#333333" stroke-width="1"/><text x="280.70" y="288.10" font-size="8.2" text-anchor="middle" fill="#333333">200</text><line x1="306.50" y1="275.80" x2="306.50" y2="278.10" stroke="#333333" stroke-width="1"/><text x="306.50" y="288.10" font-size="8.2" text-anchor="middle" fill="#333333">300</text><line x1="332.30" y1="275.80" x2="332.30" y2="278.10" stroke="#333333" stroke-width="1"/><text x="332.30" y="288.10" font-size="8.2" text-anchor="middle" fill="#333333">400</text><line x1="229.10" y1="240.90" x2="229.10" y2="220.70" stroke="#8FA2C2" stroke-width="1.0" opacity="0.5"/><line x1="227.50" y1="220.50" x2="230.70" y2="220.50" stroke="#5A6272" stroke-width="1" opacity="0.9"/><line x1="229.10" y1="240.90" x2="229.10" y2="275.80" stroke="#8FA2C2" stroke-width="1.0" opacity="0.5"/><line x1="235.24" y1="230.50" x2="238.44" y2="230.50" stroke="#5A6272" stroke-width="1" opacity="0.9"/><line x1="235.24" y1="268.50" x2="238.44" y2="268.50" stroke="#5A6272" stroke-width="1" opacity="0.9"/><line x1="242.98" y1="260.50" x2="246.18" y2="260.50" stroke="#5A6272" stroke-width="1" opacity="0.9"/><line x1="250.72" y1="217.50" x2="253.92" y2="217.50" stroke="#5A6272" stroke-width="1" opacity="0.9"/><line x1="250.72" y1="263.50" x2="253.92" y2="263.50" stroke="#5A6272" stroke-width="1" opacity="0.9"/><line x1="273.94" y1="230.50" x2="277.14" y2="230.50" stroke="#5A6272" stroke-width="1" opacity="0.9"/><line x1="273.94" y1="259.50" x2="277.14" y2="259.50" stroke="#5A6272" stroke-width="1" opacity="0.9"/><line x1="320.38" y1="246.50" x2="323.58" y2="246.50" stroke="#5A6272" stroke-width="1" opacity="0.9"/><line x1="320.38" y1="257.50" x2="323.58" y2="257.50" stroke="#5A6272" stroke-width="1" opacity="0.9"/><line x1="229.10" y1="226.90" x2="229.10" y2="200.00" stroke="#F4CD9C" stroke-width="1.0" opacity="0.7"/><line x1="227.50" y1="200.50" x2="230.70" y2="200.50" stroke="#BCA585" stroke-width="1" opacity="1.0"/><line x1="229.10" y1="226.90" x2="229.10" y2="256.00" stroke="#F4CD9C" stroke-width="1.0" opacity="0.7"/><line x1="227.50" y1="256.50" x2="230.70" y2="256.50" stroke="#BCA585" stroke-width="1" opacity="1.0"/><line x1="235.24" y1="272.50" x2="238.44" y2="272.50" stroke="#BCA585" stroke-width="1" opacity="1.0"/><line x1="242.98" y1="187.50" x2="246.18" y2="187.50" stroke="#BCA585" stroke-width="1" opacity="1.0"/><line x1="242.98" y1="257.50" x2="246.18" y2="257.50" stroke="#BCA585" stroke-width="1" opacity="1.0"/><line x1="250.72" y1="193.50" x2="253.92" y2="193.50" stroke="#BCA585" stroke-width="1" opacity="1.0"/><line x1="250.72" y1="255.50" x2="253.92" y2="255.50" stroke="#BCA585" stroke-width="1" opacity="1.0"/><line x1="273.94" y1="214.50" x2="277.14" y2="214.50" stroke="#BCA585" stroke-width="1" opacity="1.0"/><line x1="273.94" y1="254.50" x2="277.14" y2="254.50" stroke="#BCA585" stroke-width="1" opacity="1.0"/><line x1="320.38" y1="184.50" x2="323.58" y2="184.50" stroke="#BCA585" stroke-width="1" opacity="1.0"/><line x1="320.38" y1="240.50" x2="323.58" y2="240.50" stroke="#BCA585" stroke-width="1" opacity="1.0"/><polyline points="229.10,240.90 236.84,249.70 244.58,242.00 252.32,240.50 275.54,244.90 321.98,251.80" fill="none" stroke="#335D8E" stroke-width="1.1"/><rect x="227.45" y="239.25" width="3.3" height="3.3" fill="#1B2B40"/><rect x="235.19" y="248.05" width="3.3" height="3.3" fill="#1B2B40"/><rect x="242.93" y="240.35" width="3.3" height="3.3" fill="#1B2B40"/><rect x="250.67" y="238.85" width="3.3" height="3.3" fill="#1B2B40"/><rect x="273.89" y="243.25" width="3.3" height="3.3" fill="#1B2B40"/><rect x="320.33" y="250.15" width="3.3" height="3.3" fill="#1B2B40"/><polyline points="229.10,226.90 236.84,216.20 244.58,224.30 252.32,224.30 275.54,234.50 321.98,212.00" fill="none" stroke="#EC9E36" stroke-width="1.1"/><circle cx="229.10" cy="226.90" r="1.75" fill="#D9983A"/><circle cx="236.84" cy="216.20" r="1.75" fill="#D9983A"/><circle cx="244.58" cy="224.30" r="1.75" fill="#D9983A"/><circle cx="252.32" cy="224.30" r="1.75" fill="#D9983A"/><circle cx="275.54" cy="234.50" r="1.75" fill="#D9983A"/><circle cx="321.98" cy="212.00" r="1.75" fill="#D9983A"/><text x="275.70" y="300.30" font-size="8.3" font-weight="bold" fill="#333333" textLength="12.8" lengthAdjust="spacingAndGlyphs">Days</text><text transform="translate(200.40,227.05) rotate(-90)" x="0" y="0" font-size="8.3" font-weight="bold" fill="#333333" text-anchor="middle" textLength="12.3" lengthAdjust="spacingAndGlyphs">1/µl</text><line x1="237.40" y1="310.10" x2="245.40" y2="310.10" stroke="#EC9E36" stroke-width="0.8" opacity="0.8"/><circle cx="241.40" cy="310.10" r="1.6" fill="#D9983A"/><text x="247.60" y="312.50" font-size="7.2" fill="#333333">ICANS <2</text><line x1="284.40" y1="310.10" x2="292.20" y2="310.10" stroke="#335D8E" stroke-width="0.8" opacity="0.8"/><rect x="286.70" y="308.70" width="3.2" height="2.8" fill="#1B2B40"/><text x="294.80" y="312.50" font-size="7.2" fill="#333333">ICANS >1</text></g>
<g><text x="356.7" y="174.7" font-size="10.6" font-weight="bold" fill="#000">Biii</text><line x1="411.34" y1="237.20" x2="411.34" y2="212.00" stroke="#8FA2C2" stroke-width="1.0" opacity="0.9"/><line x1="411.34" y1="237.20" x2="411.34" y2="262.40" stroke="#8FA2C2" stroke-width="1.0" opacity="0.9"/><line x1="419.08" y1="239.30" x2="419.08" y2="220.70" stroke="#8FA2C2" stroke-width="1.0" opacity="0.9"/><line x1="419.08" y1="239.30" x2="419.08" y2="257.50" stroke="#8FA2C2" stroke-width="1.0" opacity="0.9"/><line x1="426.82" y1="230.30" x2="426.82" y2="207.30" stroke="#8FA2C2" stroke-width="1.0" opacity="0.9"/><line x1="426.82" y1="230.30" x2="426.82" y2="253.60" stroke="#8FA2C2" stroke-width="1.0" opacity="0.9"/><line x1="450.04" y1="229.20" x2="450.04" y2="207.50" stroke="#8FA2C2" stroke-width="1.0" opacity="0.9"/><line x1="450.04" y1="229.20" x2="450.04" y2="250.80" stroke="#8FA2C2" stroke-width="1.0" opacity="0.9"/><line x1="496.48" y1="213.40" x2="496.48" y2="181.30" stroke="#8FA2C2" stroke-width="1.0" opacity="0.9"/><line x1="496.48" y1="213.40" x2="496.48" y2="248.80" stroke="#8FA2C2" stroke-width="1.0" opacity="0.9"/><line x1="411.34" y1="223.60" x2="411.34" y2="181.30" stroke="#F4CD9C" stroke-width="1.0" opacity="1.0"/><line x1="411.34" y1="223.60" x2="411.34" y2="275.80" stroke="#F4CD9C" stroke-width="1.0" opacity="1.0"/><line x1="419.08" y1="224.30" x2="419.08" y2="183.10" stroke="#F4CD9C" stroke-width="1.0" opacity="1.0"/><line x1="419.08" y1="224.30" x2="419.08" y2="266.40" stroke="#F4CD9C" stroke-width="1.0" opacity="1.0"/><line x1="426.82" y1="238.20" x2="426.82" y2="219.60" stroke="#F4CD9C" stroke-width="1.0" opacity="1.0"/><line x1="426.82" y1="238.20" x2="426.82" y2="256.70" stroke="#F4CD9C" stroke-width="1.0" opacity="1.0"/><line x1="450.04" y1="241.60" x2="450.04" y2="224.80" stroke="#F4CD9C" stroke-width="1.0" opacity="1.0"/><line x1="450.04" y1="241.60" x2="450.04" y2="257.70" stroke="#F4CD9C" stroke-width="1.0" opacity="1.0"/><line x1="496.48" y1="230.30" x2="496.48" y2="207.10" stroke="#F4CD9C" stroke-width="1.0" opacity="1.0"/><line x1="496.48" y1="230.30" x2="496.48" y2="254.30" stroke="#F4CD9C" stroke-width="1.0" opacity="1.0"/><line x1="403.60" y1="178.90" x2="403.60" y2="278.00" stroke="#333333" stroke-width="1.1" opacity="0.88"/><line x1="400.60" y1="275.80" x2="509.90" y2="275.80" stroke="#333333" stroke-width="1.1"/><line x1="400.60" y1="275.80" x2="403.60" y2="275.80" stroke="#333333" stroke-width="1"/><text x="397.80" y="278.80" font-size="8.2" text-anchor="end" fill="#333333">0</text><line x1="400.60" y1="244.30" x2="403.60" y2="244.30" stroke="#333333" stroke-width="1"/><text x="397.80" y="247.30" font-size="8.2" text-anchor="end" fill="#333333">500</text><line x1="400.60" y1="212.80" x2="403.60" y2="212.80" stroke="#333333" stroke-width="1"/><text x="397.80" y="215.80" font-size="8.2" text-anchor="end" fill="#333333">1000</text><line x1="400.60" y1="181.30" x2="403.60" y2="181.30" stroke="#333333" stroke-width="1"/><text x="397.80" y="184.30" font-size="8.2" text-anchor="end" fill="#333333">1500</text><line x1="403.60" y1="275.80" x2="403.60" y2="278.10" stroke="#333333" stroke-width="1"/><text x="403.60" y="288.10" font-size="8.2" text-anchor="middle" fill="#333333">0</text><line x1="429.40" y1="275.80" x2="429.40" y2="278.10" stroke="#333333" stroke-width="1"/><text x="429.40" y="288.10" font-size="8.2" text-anchor="middle" fill="#333333">100</text><line x1="455.20" y1="275.80" x2="455.20" y2="278.10" stroke="#333333" stroke-width="1"/><text x="455.20" y="288.10" font-size="8.2" text-anchor="middle" fill="#333333">200</text><line x1="481.00" y1="275.80" x2="481.00" y2="278.10" stroke="#333333" stroke-width="1"/><text x="481.00" y="288.10" font-size="8.2" text-anchor="middle" fill="#333333">300</text><line x1="506.80" y1="275.80" x2="506.80" y2="278.10" stroke="#333333" stroke-width="1"/><text x="506.80" y="288.10" font-size="8.2" text-anchor="middle" fill="#333333">400</text><line x1="403.60" y1="246.00" x2="403.60" y2="257.90" stroke="#8FA2C2" stroke-width="1.0" opacity="0.5"/><line x1="402.00" y1="257.50" x2="405.20" y2="257.50" stroke="#5A6272" stroke-width="1" opacity="0.9"/><line x1="409.74" y1="212.50" x2="412.94" y2="212.50" stroke="#5A6272" stroke-width="1" opacity="0.9"/><line x1="409.74" y1="262.50" x2="412.94" y2="262.50" stroke="#5A6272" stroke-width="1" opacity="0.9"/><line x1="417.48" y1="220.50" x2="420.68" y2="220.50" stroke="#5A6272" stroke-width="1" opacity="0.9"/><line x1="417.48" y1="257.50" x2="420.68" y2="257.50" stroke="#5A6272" stroke-width="1" opacity="0.9"/><line x1="425.22" y1="207.50" x2="428.42" y2="207.50" stroke="#5A6272" stroke-width="1" opacity="0.9"/><line x1="425.22" y1="253.50" x2="428.42" y2="253.50" stroke="#5A6272" stroke-width="1" opacity="0.9"/><line x1="448.44" y1="207.50" x2="451.64" y2="207.50" stroke="#5A6272" stroke-width="1" opacity="0.9"/><line x1="448.44" y1="250.50" x2="451.64" y2="250.50" stroke="#5A6272" stroke-width="1" opacity="0.9"/><line x1="494.88" y1="248.50" x2="498.08" y2="248.50" stroke="#5A6272" stroke-width="1" opacity="0.9"/><line x1="403.60" y1="220.60" x2="403.60" y2="197.00" stroke="#F4CD9C" stroke-width="1.0" opacity="0.7"/><line x1="402.00" y1="196.50" x2="405.20" y2="196.50" stroke="#BCA585" stroke-width="1" opacity="1.0"/><line x1="403.60" y1="220.60" x2="403.60" y2="234.20" stroke="#F4CD9C" stroke-width="1.0" opacity="0.7"/><line x1="402.00" y1="234.50" x2="405.20" y2="234.50" stroke="#BCA585" stroke-width="1" opacity="1.0"/><line x1="417.48" y1="183.50" x2="420.68" y2="183.50" stroke="#BCA585" stroke-width="1" opacity="1.0"/><line x1="417.48" y1="266.50" x2="420.68" y2="266.50" stroke="#BCA585" stroke-width="1" opacity="1.0"/><line x1="425.22" y1="219.50" x2="428.42" y2="219.50" stroke="#BCA585" stroke-width="1" opacity="1.0"/><line x1="425.22" y1="256.50" x2="428.42" y2="256.50" stroke="#BCA585" stroke-width="1" opacity="1.0"/><line x1="448.44" y1="224.50" x2="451.64" y2="224.50" stroke="#BCA585" stroke-width="1" opacity="1.0"/><line x1="448.44" y1="257.50" x2="451.64" y2="257.50" stroke="#BCA585" stroke-width="1" opacity="1.0"/><line x1="494.88" y1="207.50" x2="498.08" y2="207.50" stroke="#BCA585" stroke-width="1" opacity="1.0"/><line x1="494.88" y1="254.50" x2="498.08" y2="254.50" stroke="#BCA585" stroke-width="1" opacity="1.0"/><polyline points="403.60,246.00 411.34,237.20 419.08,239.30 426.82,230.30 450.04,229.20 496.48,213.40" fill="none" stroke="#335D8E" stroke-width="1.1"/><rect x="401.95" y="244.35" width="3.3" height="3.3" fill="#1B2B40"/><rect x="409.69" y="235.55" width="3.3" height="3.3" fill="#1B2B40"/><rect x="417.43" y="237.65" width="3.3" height="3.3" fill="#1B2B40"/><rect x="425.17" y="228.65" width="3.3" height="3.3" fill="#1B2B40"/><rect x="448.39" y="227.55" width="3.3" height="3.3" fill="#1B2B40"/><rect x="494.83" y="211.75" width="3.3" height="3.3" fill="#1B2B40"/><polyline points="403.60,220.60 411.34,223.60 419.08,224.30 426.82,238.20 450.04,241.60 496.48,230.30" fill="none" stroke="#EC9E36" stroke-width="1.1"/><circle cx="403.60" cy="220.60" r="1.75" fill="#D9983A"/><circle cx="411.34" cy="223.60" r="1.75" fill="#D9983A"/><circle cx="419.08" cy="224.30" r="1.75" fill="#D9983A"/><circle cx="426.82" cy="238.20" r="1.75" fill="#D9983A"/><circle cx="450.04" cy="241.60" r="1.75" fill="#D9983A"/><circle cx="496.48" cy="230.30" r="1.75" fill="#D9983A"/><text x="450.20" y="300.30" font-size="8.3" font-weight="bold" fill="#333333" textLength="12.8" lengthAdjust="spacingAndGlyphs">Days</text><text transform="translate(374.90,227.05) rotate(-90)" x="0" y="0" font-size="8.3" font-weight="bold" fill="#333333" text-anchor="middle" textLength="12.3" lengthAdjust="spacingAndGlyphs">1/µl</text><line x1="419.00" y1="310.10" x2="427.00" y2="310.10" stroke="#EC9E36" stroke-width="0.8" opacity="0.8"/><circle cx="423.00" cy="310.10" r="1.6" fill="#D9983A"/><text x="429.60" y="312.50" font-size="7.2" fill="#333333">low risk</text><line x1="457.90" y1="310.10" x2="465.70" y2="310.10" stroke="#335D8E" stroke-width="0.8" opacity="0.8"/><rect x="460.20" y="308.70" width="3.2" height="2.8" fill="#1B2B40"/><text x="468.40" y="312.50" font-size="7.2" fill="#333333">high risk</text></g>
<g><text x="8.1" y="334.0" font-size="10.6" font-weight="bold" fill="#000">Ci</text><line x1="60.24" y1="410.20" x2="60.24" y2="390.00" stroke="#8FA2C2" stroke-width="1.0" opacity="0.9"/><line x1="60.24" y1="410.20" x2="60.24" y2="432.30" stroke="#8FA2C2" stroke-width="1.0" opacity="0.9"/><line x1="67.98" y1="413.50" x2="67.98" y2="398.50" stroke="#8FA2C2" stroke-width="1.0" opacity="0.9"/><line x1="75.72" y1="412.30" x2="75.72" y2="401.00" stroke="#8FA2C2" stroke-width="1.0" opacity="0.9"/><line x1="75.72" y1="412.30" x2="75.72" y2="424.00" stroke="#8FA2C2" stroke-width="1.0" opacity="0.9"/><line x1="98.94" y1="414.10" x2="98.94" y2="399.50" stroke="#8FA2C2" stroke-width="1.0" opacity="0.9"/><line x1="98.94" y1="414.10" x2="98.94" y2="428.80" stroke="#8FA2C2" stroke-width="1.0" opacity="0.9"/><line x1="145.38" y1="410.40" x2="145.38" y2="429.70" stroke="#8FA2C2" stroke-width="1.0" opacity="0.9"/><line x1="60.24" y1="403.50" x2="60.24" y2="370.10" stroke="#F4CD9C" stroke-width="1.0" opacity="1.0"/><line x1="60.24" y1="403.50" x2="60.24" y2="432.30" stroke="#F4CD9C" stroke-width="1.0" opacity="1.0"/><line x1="67.98" y1="408.80" x2="67.98" y2="385.60" stroke="#F4CD9C" stroke-width="1.0" opacity="1.0"/><line x1="67.98" y1="408.80" x2="67.98" y2="427.80" stroke="#F4CD9C" stroke-width="1.0" opacity="1.0"/><line x1="75.72" y1="409.00" x2="75.72" y2="396.30" stroke="#F4CD9C" stroke-width="1.0" opacity="1.0"/><line x1="75.72" y1="409.00" x2="75.72" y2="418.20" stroke="#F4CD9C" stroke-width="1.0" opacity="1.0"/><line x1="98.94" y1="404.80" x2="98.94" y2="385.70" stroke="#F4CD9C" stroke-width="1.0" opacity="1.0"/><line x1="98.94" y1="404.80" x2="98.94" y2="423.80" stroke="#F4CD9C" stroke-width="1.0" opacity="1.0"/><line x1="145.38" y1="388.60" x2="145.38" y2="362.60" stroke="#F4CD9C" stroke-width="1.0" opacity="1.0"/><line x1="145.38" y1="388.60" x2="145.38" y2="412.00" stroke="#F4CD9C" stroke-width="1.0" opacity="1.0"/><line x1="52.50" y1="338.30" x2="52.50" y2="434.50" stroke="#333333" stroke-width="1.1" opacity="0.88"/><line x1="49.50" y1="432.30" x2="158.80" y2="432.30" stroke="#333333" stroke-width="1.1"/><line x1="49.50" y1="432.30" x2="52.50" y2="432.30" stroke="#333333" stroke-width="1"/><text x="46.70" y="435.30" font-size="8.2" text-anchor="end" fill="#333333">0</text><line x1="49.50" y1="407.10" x2="52.50" y2="407.10" stroke="#333333" stroke-width="1"/><text x="46.70" y="410.10" font-size="8.2" text-anchor="end" fill="#333333">200</text><line x1="49.50" y1="381.90" x2="52.50" y2="381.90" stroke="#333333" stroke-width="1"/><text x="46.70" y="384.90" font-size="8.2" text-anchor="end" fill="#333333">400</text><line x1="49.50" y1="356.70" x2="52.50" y2="356.70" stroke="#333333" stroke-width="1"/><text x="46.70" y="359.70" font-size="8.2" text-anchor="end" fill="#333333">600</text><line x1="52.50" y1="432.30" x2="52.50" y2="434.60" stroke="#333333" stroke-width="1"/><text x="52.50" y="444.60" font-size="8.2" text-anchor="middle" fill="#333333">0</text><line x1="78.30" y1="432.30" x2="78.30" y2="434.60" stroke="#333333" stroke-width="1"/><text x="78.30" y="444.60" font-size="8.2" text-anchor="middle" fill="#333333">100</text><line x1="104.10" y1="432.30" x2="104.10" y2="434.60" stroke="#333333" stroke-width="1"/><text x="104.10" y="444.60" font-size="8.2" text-anchor="middle" fill="#333333">200</text><line x1="129.90" y1="432.30" x2="129.90" y2="434.60" stroke="#333333" stroke-width="1"/><text x="129.90" y="444.60" font-size="8.2" text-anchor="middle" fill="#333333">300</text><line x1="155.70" y1="432.30" x2="155.70" y2="434.60" stroke="#333333" stroke-width="1"/><text x="155.70" y="444.60" font-size="8.2" text-anchor="middle" fill="#333333">400</text><line x1="52.50" y1="402.40" x2="52.50" y2="427.40" stroke="#8FA2C2" stroke-width="1.0" opacity="0.5"/><line x1="50.90" y1="427.50" x2="54.10" y2="427.50" stroke="#5A6272" stroke-width="1" opacity="0.9"/><line x1="58.64" y1="390.50" x2="61.84" y2="390.50" stroke="#5A6272" stroke-width="1" opacity="0.9"/><line x1="66.38" y1="398.50" x2="69.58" y2="398.50" stroke="#5A6272" stroke-width="1" opacity="0.9"/><line x1="74.12" y1="400.50" x2="77.32" y2="400.50" stroke="#5A6272" stroke-width="1" opacity="0.9"/><line x1="74.12" y1="424.50" x2="77.32" y2="424.50" stroke="#5A6272" stroke-width="1" opacity="0.9"/><line x1="97.34" y1="399.50" x2="100.54" y2="399.50" stroke="#5A6272" stroke-width="1" opacity="0.9"/><line x1="97.34" y1="428.50" x2="100.54" y2="428.50" stroke="#5A6272" stroke-width="1" opacity="0.9"/><line x1="143.78" y1="429.50" x2="146.98" y2="429.50" stroke="#5A6272" stroke-width="1" opacity="0.9"/><line x1="52.50" y1="402.20" x2="52.50" y2="375.30" stroke="#F4CD9C" stroke-width="1.0" opacity="0.7"/><line x1="50.90" y1="375.50" x2="54.10" y2="375.50" stroke="#BCA585" stroke-width="1" opacity="1.0"/><line x1="52.50" y1="402.20" x2="52.50" y2="432.30" stroke="#F4CD9C" stroke-width="1.0" opacity="0.7"/><line x1="58.64" y1="370.50" x2="61.84" y2="370.50" stroke="#BCA585" stroke-width="1" opacity="1.0"/><line x1="66.38" y1="385.50" x2="69.58" y2="385.50" stroke="#BCA585" stroke-width="1" opacity="1.0"/><line x1="66.38" y1="427.50" x2="69.58" y2="427.50" stroke="#BCA585" stroke-width="1" opacity="1.0"/><line x1="74.12" y1="396.50" x2="77.32" y2="396.50" stroke="#BCA585" stroke-width="1" opacity="1.0"/><line x1="74.12" y1="418.50" x2="77.32" y2="418.50" stroke="#BCA585" stroke-width="1" opacity="1.0"/><line x1="97.34" y1="385.50" x2="100.54" y2="385.50" stroke="#BCA585" stroke-width="1" opacity="1.0"/><line x1="97.34" y1="423.50" x2="100.54" y2="423.50" stroke="#BCA585" stroke-width="1" opacity="1.0"/><line x1="143.78" y1="362.50" x2="146.98" y2="362.50" stroke="#BCA585" stroke-width="1" opacity="1.0"/><line x1="143.78" y1="412.50" x2="146.98" y2="412.50" stroke="#BCA585" stroke-width="1" opacity="1.0"/><polyline points="52.50,402.40 60.24,410.20 67.98,413.50 75.72,412.30 98.94,414.10 145.38,410.40" fill="none" stroke="#335D8E" stroke-width="1.1"/><rect x="50.85" y="400.75" width="3.3" height="3.3" fill="#1B2B40"/><rect x="58.59" y="408.55" width="3.3" height="3.3" fill="#1B2B40"/><rect x="66.33" y="411.85" width="3.3" height="3.3" fill="#1B2B40"/><rect x="74.07" y="410.65" width="3.3" height="3.3" fill="#1B2B40"/><rect x="97.29" y="412.45" width="3.3" height="3.3" fill="#1B2B40"/><rect x="143.73" y="408.75" width="3.3" height="3.3" fill="#1B2B40"/><polyline points="52.50,402.20 60.24,403.50 67.98,408.80 75.72,409.00 98.94,404.80 145.38,388.60" fill="none" stroke="#EC9E36" stroke-width="1.1"/><circle cx="52.50" cy="402.20" r="1.75" fill="#D9983A"/><circle cx="60.24" cy="403.50" r="1.75" fill="#D9983A"/><circle cx="67.98" cy="408.80" r="1.75" fill="#D9983A"/><circle cx="75.72" cy="409.00" r="1.75" fill="#D9983A"/><circle cx="98.94" cy="404.80" r="1.75" fill="#D9983A"/><circle cx="145.38" cy="388.60" r="1.75" fill="#D9983A"/><text x="99.10" y="456.80" font-size="8.3" font-weight="bold" fill="#333333" textLength="12.8" lengthAdjust="spacingAndGlyphs">Days</text><text transform="translate(28.30,383.55) rotate(-90)" x="0" y="0" font-size="8.3" font-weight="bold" fill="#333333" text-anchor="middle" textLength="12.3" lengthAdjust="spacingAndGlyphs">1/µl</text><line x1="67.90" y1="466.60" x2="76.10" y2="466.60" stroke="#EC9E36" stroke-width="0.8" opacity="0.8"/><circle cx="72.00" cy="466.60" r="1.6" fill="#D9983A"/><text x="78.60" y="469.00" font-size="7.2" fill="#333333">CRS <2</text><line x1="109.00" y1="466.60" x2="116.80" y2="466.60" stroke="#335D8E" stroke-width="0.8" opacity="0.8"/><rect x="111.30" y="465.20" width="3.2" height="2.8" fill="#1B2B40"/><text x="119.50" y="469.00" font-size="7.2" fill="#333333">CRS >1</text></g>
<g><text x="181.7" y="334.0" font-size="10.6" font-weight="bold" fill="#000">Cii</text><line x1="236.84" y1="421.20" x2="236.84" y2="414.60" stroke="#8FA2C2" stroke-width="1.0" opacity="0.9"/><line x1="236.84" y1="421.20" x2="236.84" y2="424.50" stroke="#8FA2C2" stroke-width="1.0" opacity="0.9"/><line x1="244.58" y1="420.50" x2="244.58" y2="429.20" stroke="#8FA2C2" stroke-width="1.0" opacity="0.9"/><line x1="252.32" y1="413.50" x2="252.32" y2="402.40" stroke="#8FA2C2" stroke-width="1.0" opacity="0.9"/><line x1="252.32" y1="413.50" x2="252.32" y2="425.20" stroke="#8FA2C2" stroke-width="1.0" opacity="0.9"/><line x1="275.54" y1="410.70" x2="275.54" y2="389.70" stroke="#8FA2C2" stroke-width="1.0" opacity="0.9"/><line x1="275.54" y1="410.70" x2="275.54" y2="432.30" stroke="#8FA2C2" stroke-width="1.0" opacity="0.9"/><line x1="321.98" y1="423.50" x2="321.98" y2="420.50" stroke="#8FA2C2" stroke-width="1.0" opacity="0.9"/><line x1="321.98" y1="423.50" x2="321.98" y2="426.50" stroke="#8FA2C2" stroke-width="1.0" opacity="0.9"/><line x1="236.84" y1="401.00" x2="236.84" y2="369.40" stroke="#F4CD9C" stroke-width="1.0" opacity="1.0"/><line x1="236.84" y1="401.00" x2="236.84" y2="428.40" stroke="#F4CD9C" stroke-width="1.0" opacity="1.0"/><line x1="244.58" y1="408.80" x2="244.58" y2="388.50" stroke="#F4CD9C" stroke-width="1.0" opacity="1.0"/><line x1="244.58" y1="408.80" x2="244.58" y2="425.20" stroke="#F4CD9C" stroke-width="1.0" opacity="1.0"/><line x1="252.32" y1="409.00" x2="252.32" y2="396.30" stroke="#F4CD9C" stroke-width="1.0" opacity="1.0"/><line x1="252.32" y1="409.00" x2="252.32" y2="420.80" stroke="#F4CD9C" stroke-width="1.0" opacity="1.0"/><line x1="275.54" y1="409.00" x2="275.54" y2="389.70" stroke="#F4CD9C" stroke-width="1.0" opacity="1.0"/><line x1="275.54" y1="409.00" x2="275.54" y2="425.80" stroke="#F4CD9C" stroke-width="1.0" opacity="1.0"/><line x1="321.98" y1="388.90" x2="321.98" y2="365.90" stroke="#F4CD9C" stroke-width="1.0" opacity="1.0"/><line x1="321.98" y1="388.90" x2="321.98" y2="411.70" stroke="#F4CD9C" stroke-width="1.0" opacity="1.0"/><line x1="229.10" y1="338.30" x2="229.10" y2="434.50" stroke="#333333" stroke-width="1.1" opacity="0.88"/><line x1="226.10" y1="432.30" x2="335.40" y2="432.30" stroke="#333333" stroke-width="1.1"/><line x1="226.10" y1="432.30" x2="229.10" y2="432.30" stroke="#333333" stroke-width="1"/><text x="223.30" y="435.30" font-size="8.2" text-anchor="end" fill="#333333">0</text><line x1="226.10" y1="407.10" x2="229.10" y2="407.10" stroke="#333333" stroke-width="1"/><text x="223.30" y="410.10" font-size="8.2" text-anchor="end" fill="#333333">200</text><line x1="226.10" y1="381.90" x2="229.10" y2="381.90" stroke="#333333" stroke-width="1"/><text x="223.30" y="384.90" font-size="8.2" text-anchor="end" fill="#333333">400</text><line x1="226.10" y1="356.70" x2="229.10" y2="356.70" stroke="#333333" stroke-width="1"/><text x="223.30" y="359.70" font-size="8.2" text-anchor="end" fill="#333333">600</text><line x1="229.10" y1="432.30" x2="229.10" y2="434.60" stroke="#333333" stroke-width="1"/><text x="229.10" y="444.60" font-size="8.2" text-anchor="middle" fill="#333333">0</text><line x1="254.90" y1="432.30" x2="254.90" y2="434.60" stroke="#333333" stroke-width="1"/><text x="254.90" y="444.60" font-size="8.2" text-anchor="middle" fill="#333333">100</text><line x1="280.70" y1="432.30" x2="280.70" y2="434.60" stroke="#333333" stroke-width="1"/><text x="280.70" y="444.60" font-size="8.2" text-anchor="middle" fill="#333333">200</text><line x1="306.50" y1="432.30" x2="306.50" y2="434.60" stroke="#333333" stroke-width="1"/><text x="306.50" y="444.60" font-size="8.2" text-anchor="middle" fill="#333333">300</text><line x1="332.30" y1="432.30" x2="332.30" y2="434.60" stroke="#333333" stroke-width="1"/><text x="332.30" y="444.60" font-size="8.2" text-anchor="middle" fill="#333333">400</text><line x1="229.10" y1="412.30" x2="229.10" y2="426.00" stroke="#8FA2C2" stroke-width="1.0" opacity="0.5"/><line x1="227.50" y1="426.50" x2="230.70" y2="426.50" stroke="#5A6272" stroke-width="1" opacity="0.9"/><line x1="235.24" y1="414.50" x2="238.44" y2="414.50" stroke="#5A6272" stroke-width="1" opacity="0.9"/><line x1="235.24" y1="424.50" x2="238.44" y2="424.50" stroke="#5A6272" stroke-width="1" opacity="0.9"/><line x1="242.98" y1="429.50" x2="246.18" y2="429.50" stroke="#5A6272" stroke-width="1" opacity="0.9"/><line x1="250.72" y1="402.50" x2="253.92" y2="402.50" stroke="#5A6272" stroke-width="1" opacity="0.9"/><line x1="250.72" y1="425.50" x2="253.92" y2="425.50" stroke="#5A6272" stroke-width="1" opacity="0.9"/><line x1="273.94" y1="389.50" x2="277.14" y2="389.50" stroke="#5A6272" stroke-width="1" opacity="0.9"/><line x1="320.38" y1="420.50" x2="323.58" y2="420.50" stroke="#5A6272" stroke-width="1" opacity="0.9"/><line x1="320.38" y1="426.50" x2="323.58" y2="426.50" stroke="#5A6272" stroke-width="1" opacity="0.9"/><line x1="229.10" y1="396.60" x2="229.10" y2="368.50" stroke="#F4CD9C" stroke-width="1.0" opacity="0.7"/><line x1="227.50" y1="368.50" x2="230.70" y2="368.50" stroke="#BCA585" stroke-width="1" opacity="1.0"/><line x1="235.24" y1="369.50" x2="238.44" y2="369.50" stroke="#BCA585" stroke-width="1" opacity="1.0"/><line x1="235.24" y1="428.50" x2="238.44" y2="428.50" stroke="#BCA585" stroke-width="1" opacity="1.0"/><line x1="242.98" y1="388.50" x2="246.18" y2="388.50" stroke="#BCA585" stroke-width="1" opacity="1.0"/><line x1="242.98" y1="425.50" x2="246.18" y2="425.50" stroke="#BCA585" stroke-width="1" opacity="1.0"/><line x1="250.72" y1="396.50" x2="253.92" y2="396.50" stroke="#BCA585" stroke-width="1" opacity="1.0"/><line x1="250.72" y1="420.50" x2="253.92" y2="420.50" stroke="#BCA585" stroke-width="1" opacity="1.0"/><line x1="273.94" y1="389.50" x2="277.14" y2="389.50" stroke="#BCA585" stroke-width="1" opacity="1.0"/><line x1="273.94" y1="425.50" x2="277.14" y2="425.50" stroke="#BCA585" stroke-width="1" opacity="1.0"/><line x1="320.38" y1="365.50" x2="323.58" y2="365.50" stroke="#BCA585" stroke-width="1" opacity="1.0"/><line x1="320.38" y1="411.50" x2="323.58" y2="411.50" stroke="#BCA585" stroke-width="1" opacity="1.0"/><polyline points="229.10,412.30 236.84,421.20 244.58,420.50 252.32,413.50 275.54,410.70 321.98,423.50" fill="none" stroke="#335D8E" stroke-width="1.1"/><rect x="227.45" y="410.65" width="3.3" height="3.3" fill="#1B2B40"/><rect x="235.19" y="419.55" width="3.3" height="3.3" fill="#1B2B40"/><rect x="242.93" y="418.85" width="3.3" height="3.3" fill="#1B2B40"/><rect x="250.67" y="411.85" width="3.3" height="3.3" fill="#1B2B40"/><rect x="273.89" y="409.05" width="3.3" height="3.3" fill="#1B2B40"/><rect x="320.33" y="421.85" width="3.3" height="3.3" fill="#1B2B40"/><polyline points="229.10,396.60 236.84,401.00 244.58,408.80 252.32,409.00 275.54,409.00 321.98,388.90" fill="none" stroke="#EC9E36" stroke-width="1.1"/><circle cx="229.10" cy="396.60" r="1.75" fill="#D9983A"/><circle cx="236.84" cy="401.00" r="1.75" fill="#D9983A"/><circle cx="244.58" cy="408.80" r="1.75" fill="#D9983A"/><circle cx="252.32" cy="409.00" r="1.75" fill="#D9983A"/><circle cx="275.54" cy="409.00" r="1.75" fill="#D9983A"/><circle cx="321.98" cy="388.90" r="1.75" fill="#D9983A"/><text x="275.70" y="456.80" font-size="8.3" font-weight="bold" fill="#333333" textLength="12.8" lengthAdjust="spacingAndGlyphs">Days</text><text transform="translate(204.90,383.55) rotate(-90)" x="0" y="0" font-size="8.3" font-weight="bold" fill="#333333" text-anchor="middle" textLength="12.3" lengthAdjust="spacingAndGlyphs">1/µl</text><line x1="236.10" y1="466.60" x2="244.10" y2="466.60" stroke="#EC9E36" stroke-width="0.8" opacity="0.8"/><circle cx="240.10" cy="466.60" r="1.6" fill="#D9983A"/><text x="246.30" y="469.00" font-size="7.2" fill="#333333">ICANS <2</text><line x1="283.10" y1="466.60" x2="290.90" y2="466.60" stroke="#335D8E" stroke-width="0.8" opacity="0.8"/><rect x="285.40" y="465.20" width="3.2" height="2.8" fill="#1B2B40"/><text x="293.50" y="469.00" font-size="7.2" fill="#333333">ICANS >1</text></g>
<g><text x="356.7" y="334.0" font-size="10.6" font-weight="bold" fill="#000">Ciii</text><line x1="426.82" y1="408.30" x2="426.82" y2="396.60" stroke="#8FA2C2" stroke-width="1.0" opacity="0.9"/><line x1="426.82" y1="408.30" x2="426.82" y2="419.30" stroke="#8FA2C2" stroke-width="1.0" opacity="0.9"/><line x1="450.04" y1="407.00" x2="450.04" y2="392.00" stroke="#8FA2C2" stroke-width="1.0" opacity="0.9"/><line x1="450.04" y1="407.00" x2="450.04" y2="423.00" stroke="#8FA2C2" stroke-width="1.0" opacity="0.9"/><line x1="496.48" y1="389.90" x2="496.48" y2="365.40" stroke="#8FA2C2" stroke-width="1.0" opacity="0.9"/><line x1="496.48" y1="389.90" x2="496.48" y2="414.10" stroke="#8FA2C2" stroke-width="1.0" opacity="0.9"/><line x1="411.34" y1="401.00" x2="411.34" y2="363.40" stroke="#F4CD9C" stroke-width="1.0" opacity="1.0"/><line x1="411.34" y1="401.00" x2="411.34" y2="426.70" stroke="#F4CD9C" stroke-width="1.0" opacity="1.0"/><line x1="419.08" y1="407.90" x2="419.08" y2="384.10" stroke="#F4CD9C" stroke-width="1.0" opacity="1.0"/><line x1="419.08" y1="407.90" x2="419.08" y2="431.40" stroke="#F4CD9C" stroke-width="1.0" opacity="1.0"/><line x1="426.82" y1="415.70" x2="426.82" y2="403.20" stroke="#F4CD9C" stroke-width="1.0" opacity="1.0"/><line x1="426.82" y1="415.70" x2="426.82" y2="428.10" stroke="#F4CD9C" stroke-width="1.0" opacity="1.0"/><line x1="450.04" y1="411.20" x2="450.04" y2="390.70" stroke="#F4CD9C" stroke-width="1.0" opacity="1.0"/><line x1="450.04" y1="411.20" x2="450.04" y2="428.80" stroke="#F4CD9C" stroke-width="1.0" opacity="1.0"/><line x1="496.48" y1="405.00" x2="496.48" y2="379.30" stroke="#F4CD9C" stroke-width="1.0" opacity="1.0"/><line x1="496.48" y1="405.00" x2="496.48" y2="432.30" stroke="#F4CD9C" stroke-width="1.0" opacity="1.0"/><line x1="403.60" y1="338.30" x2="403.60" y2="434.50" stroke="#333333" stroke-width="1.1" opacity="0.88"/><line x1="400.60" y1="432.30" x2="509.90" y2="432.30" stroke="#333333" stroke-width="1.1"/><line x1="400.60" y1="432.30" x2="403.60" y2="432.30" stroke="#333333" stroke-width="1"/><text x="397.80" y="435.30" font-size="8.2" text-anchor="end" fill="#333333">0</text><line x1="400.60" y1="407.10" x2="403.60" y2="407.10" stroke="#333333" stroke-width="1"/><text x="397.80" y="410.10" font-size="8.2" text-anchor="end" fill="#333333">200</text><line x1="400.60" y1="381.90" x2="403.60" y2="381.90" stroke="#333333" stroke-width="1"/><text x="397.80" y="384.90" font-size="8.2" text-anchor="end" fill="#333333">400</text><line x1="400.60" y1="356.70" x2="403.60" y2="356.70" stroke="#333333" stroke-width="1"/><text x="397.80" y="359.70" font-size="8.2" text-anchor="end" fill="#333333">600</text><line x1="403.60" y1="432.30" x2="403.60" y2="434.60" stroke="#333333" stroke-width="1"/><text x="403.60" y="444.60" font-size="8.2" text-anchor="middle" fill="#333333">0</text><line x1="429.40" y1="432.30" x2="429.40" y2="434.60" stroke="#333333" stroke-width="1"/><text x="429.40" y="444.60" font-size="8.2" text-anchor="middle" fill="#333333">100</text><line x1="455.20" y1="432.30" x2="455.20" y2="434.60" stroke="#333333" stroke-width="1"/><text x="455.20" y="444.60" font-size="8.2" text-anchor="middle" fill="#333333">200</text><line x1="481.00" y1="432.30" x2="481.00" y2="434.60" stroke="#333333" stroke-width="1"/><text x="481.00" y="444.60" font-size="8.2" text-anchor="middle" fill="#333333">300</text><line x1="506.80" y1="432.30" x2="506.80" y2="434.60" stroke="#333333" stroke-width="1"/><text x="506.80" y="444.60" font-size="8.2" text-anchor="middle" fill="#333333">400</text><line x1="403.60" y1="415.20" x2="403.60" y2="404.60" stroke="#8FA2C2" stroke-width="1.0" opacity="0.5"/><line x1="402.00" y1="404.50" x2="405.20" y2="404.50" stroke="#5A6272" stroke-width="1" opacity="0.9"/><line x1="403.60" y1="415.20" x2="403.60" y2="425.20" stroke="#8FA2C2" stroke-width="1.0" opacity="0.5"/><line x1="402.00" y1="425.50" x2="405.20" y2="425.50" stroke="#5A6272" stroke-width="1" opacity="0.9"/><line x1="425.22" y1="396.50" x2="428.42" y2="396.50" stroke="#5A6272" stroke-width="1" opacity="0.9"/><line x1="425.22" y1="419.50" x2="428.42" y2="419.50" stroke="#5A6272" stroke-width="1" opacity="0.9"/><line x1="448.44" y1="392.50" x2="451.64" y2="392.50" stroke="#5A6272" stroke-width="1" opacity="0.9"/><line x1="448.44" y1="422.50" x2="451.64" y2="422.50" stroke="#5A6272" stroke-width="1" opacity="0.9"/><line x1="494.88" y1="365.50" x2="498.08" y2="365.50" stroke="#5A6272" stroke-width="1" opacity="0.9"/><line x1="494.88" y1="414.50" x2="498.08" y2="414.50" stroke="#5A6272" stroke-width="1" opacity="0.9"/><line x1="403.60" y1="393.20" x2="403.60" y2="368.50" stroke="#F4CD9C" stroke-width="1.0" opacity="0.7"/><line x1="402.00" y1="368.50" x2="405.20" y2="368.50" stroke="#BCA585" stroke-width="1" opacity="1.0"/><line x1="409.74" y1="363.50" x2="412.94" y2="363.50" stroke="#BCA585" stroke-width="1" opacity="1.0"/><line x1="409.74" y1="426.50" x2="412.94" y2="426.50" stroke="#BCA585" stroke-width="1" opacity="1.0"/><line x1="417.48" y1="384.50" x2="420.68" y2="384.50" stroke="#BCA585" stroke-width="1" opacity="1.0"/><line x1="417.48" y1="431.50" x2="420.68" y2="431.50" stroke="#BCA585" stroke-width="1" opacity="1.0"/><line x1="425.22" y1="403.50" x2="428.42" y2="403.50" stroke="#BCA585" stroke-width="1" opacity="1.0"/><line x1="425.22" y1="428.50" x2="428.42" y2="428.50" stroke="#BCA585" stroke-width="1" opacity="1.0"/><line x1="448.44" y1="390.50" x2="451.64" y2="390.50" stroke="#BCA585" stroke-width="1" opacity="1.0"/><line x1="448.44" y1="428.50" x2="451.64" y2="428.50" stroke="#BCA585" stroke-width="1" opacity="1.0"/><line x1="494.88" y1="379.50" x2="498.08" y2="379.50" stroke="#BCA585" stroke-width="1" opacity="1.0"/><polyline points="403.60,415.20 411.34,414.60 419.08,417.90 426.82,408.30 450.04,407.00 496.48,389.90" fill="none" stroke="#335D8E" stroke-width="1.1"/><rect x="401.95" y="413.55" width="3.3" height="3.3" fill="#1B2B40"/><rect x="409.69" y="412.95" width="3.3" height="3.3" fill="#1B2B40"/><rect x="417.43" y="416.25" width="3.3" height="3.3" fill="#1B2B40"/><rect x="425.17" y="406.65" width="3.3" height="3.3" fill="#1B2B40"/><rect x="448.39" y="405.35" width="3.3" height="3.3" fill="#1B2B40"/><rect x="494.83" y="388.25" width="3.3" height="3.3" fill="#1B2B40"/><polyline points="403.60,393.20 411.34,401.00 419.08,407.90 426.82,415.70 450.04,411.20 496.48,405.00" fill="none" stroke="#EC9E36" stroke-width="1.1"/><circle cx="403.60" cy="393.20" r="1.75" fill="#D9983A"/><circle cx="411.34" cy="401.00" r="1.75" fill="#D9983A"/><circle cx="419.08" cy="407.90" r="1.75" fill="#D9983A"/><circle cx="426.82" cy="415.70" r="1.75" fill="#D9983A"/><circle cx="450.04" cy="411.20" r="1.75" fill="#D9983A"/><circle cx="496.48" cy="405.00" r="1.75" fill="#D9983A"/><text x="450.20" y="456.80" font-size="8.3" font-weight="bold" fill="#333333" textLength="12.8" lengthAdjust="spacingAndGlyphs">Days</text><text transform="translate(379.40,383.55) rotate(-90)" x="0" y="0" font-size="8.3" font-weight="bold" fill="#333333" text-anchor="middle" textLength="12.3" lengthAdjust="spacingAndGlyphs">1/µl</text><line x1="410.30" y1="466.60" x2="418.30" y2="466.60" stroke="#EC9E36" stroke-width="0.8" opacity="0.8"/><circle cx="414.30" cy="466.60" r="1.6" fill="#D9983A"/><text x="420.90" y="469.00" font-size="7.2" fill="#333333">low risk</text><line x1="449.20" y1="466.60" x2="457.00" y2="466.60" stroke="#335D8E" stroke-width="0.8" opacity="0.8"/><rect x="451.50" y="465.20" width="3.2" height="2.8" fill="#1B2B40"/><text x="459.70" y="469.00" font-size="7.2" fill="#333333">high risk</text></g>
<rect x="0.5" y="0.5" width="519" height="476" fill="none" stroke="#646464" stroke-width="1"/>
</svg></body></html>
